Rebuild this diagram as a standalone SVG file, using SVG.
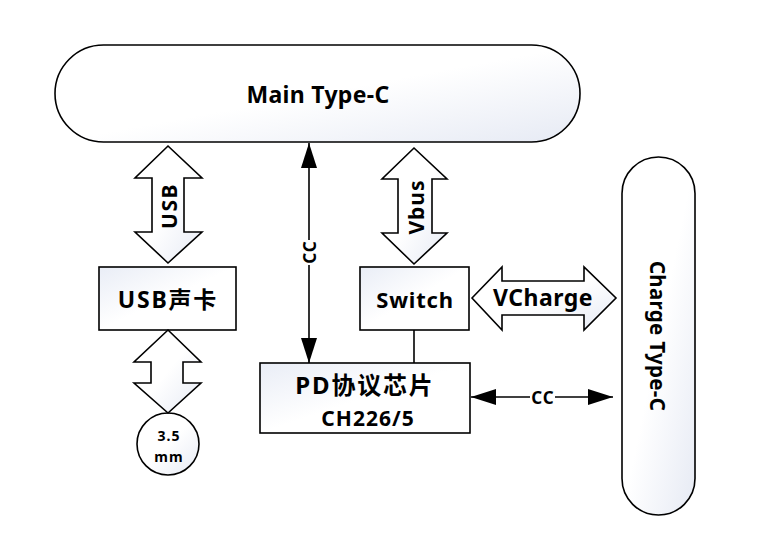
<svg xmlns="http://www.w3.org/2000/svg" width="768" height="548" viewBox="0 0 768 548">
<defs>
<linearGradient id="g" x1="0" y1="0" x2="1" y2="1">
<stop offset="0" stop-color="#ffffff"/>
<stop offset="0.5" stop-color="#ffffff"/>
<stop offset="1" stop-color="#e6eaf4"/>
</linearGradient>
<linearGradient id="gb" x1="0" y1="0" x2="1" y2="1">
<stop offset="0" stop-color="#e9edf6"/>
<stop offset="0.5" stop-color="#ffffff"/>
<stop offset="1" stop-color="#ffffff"/>
</linearGradient>
<marker id="ah" viewBox="0 0 25 16" refX="25" refY="8" markerWidth="25" markerHeight="16" markerUnits="userSpaceOnUse" orient="auto-start-reverse">
<path d="M0,0 L25,8 L0,16 z" fill="#000"/>
</marker>
</defs>
<style>
.s{stroke:#000;stroke-width:1.6;fill:url(#g)}
.b{stroke:#000;stroke-width:1.6;fill:url(#gb)}
.t{font-family:"Noto Sans","Noto Sans CJK SC",sans-serif;font-weight:bold;fill:#000;text-anchor:middle;dominant-baseline:central}
.ln{stroke:#000;stroke-width:1.6;fill:none}
</style>
<rect width="768" height="548" fill="#fff"/>
<g id="main-typec">
<rect class="s" x="55" y="45" width="525" height="97" rx="48.5"/>
<text class="t" x="318" y="94" font-size="23" letter-spacing="0.3">Main Type-C</text>
</g>
<g id="charge-typec">
<rect class="s" x="622" y="157" width="73" height="358" rx="36.5"/>
<text class="t" x="658" y="336" font-size="20.5" letter-spacing="0.3" transform="rotate(90 658 336)">Charge Type-C</text>
</g>
<g id="usb-card">
<rect class="b" x="99" y="267" width="137" height="63"/>
<text class="t" x="168" y="299" font-size="23" letter-spacing="1.8">USB声卡</text>
</g>
<g id="switch">
<rect class="b" x="360" y="267" width="109" height="63"/>
<text class="t" x="415" y="299" font-size="22" letter-spacing="0.8">Switch</text>
</g>
<g id="pd-chip">
<rect class="b" x="260" y="363" width="210" height="70"/>
<text class="t" x="365" y="384" font-size="24" letter-spacing="1.8">PD协议芯片</text>
<text class="t" x="368" y="418" font-size="21" letter-spacing="1">CH226/5</text>
</g>
<g id="jack">
<circle class="s" cx="168" cy="444" r="31"/>
<text class="t" x="169" y="435" font-size="14" letter-spacing="1">3.5</text>
<text class="t" x="169" y="456" font-size="14" letter-spacing="1">mm</text>
</g>
<g id="connectors">
<g id="usb-arrow">
<path class="s" d="M168,146 L202,178 L184,178 L184,232 L202,232 L168,263 L135,232 L152,232 L152,178 L135,178 Z"/>
<text class="t" x="169" y="206" font-size="21" letter-spacing="1.5" transform="rotate(-90 169 206)">USB</text>
</g>
<g id="vbus-arrow">
<path class="s" d="M414,148 L447,179 L432,179 L432,233 L447,233 L414,264 L382,233 L398,233 L398,179 L382,179 Z"/>
<text class="t" x="416" y="207" font-size="21" letter-spacing="1" transform="rotate(-90 416 207)">Vbus</text>
</g>
<g id="audio-arrow">
<path class="s" d="M168,330 L201,362 L183,362 L183,383 L201,383 L168,413 L134,383 L151,383 L151,362 L134,362 Z"/>
</g>
<g id="vcharge-arrow">
<path class="s" d="M472,298 L502,267 L502,281 L584,281 L584,267 L616,298 L584,330 L584,315 L502,315 L502,330 Z"/>
<text class="t" x="543" y="297" font-size="23" letter-spacing="0.5">VCharge</text>
</g>
<g id="cc-vertical">
<line class="ln" x1="309" y1="143" x2="309" y2="240" marker-start="url(#ah)"/>
<line class="ln" x1="309" y1="265" x2="309" y2="363" marker-end="url(#ah)"/>
<text class="t" x="309" y="252" font-size="17" letter-spacing="1" transform="rotate(-90 309 252)">CC</text>
</g>
<line id="switch-pd" class="ln" x1="414" y1="330" x2="414" y2="363"/>
<g id="cc-horizontal">
<line class="ln" x1="471" y1="397" x2="530" y2="397" marker-start="url(#ah)"/>
<line class="ln" x1="555" y1="397" x2="613" y2="397" marker-end="url(#ah)"/>
<text class="t" x="543" y="397" font-size="17" letter-spacing="1">CC</text>
</g>
</g>
</svg>
